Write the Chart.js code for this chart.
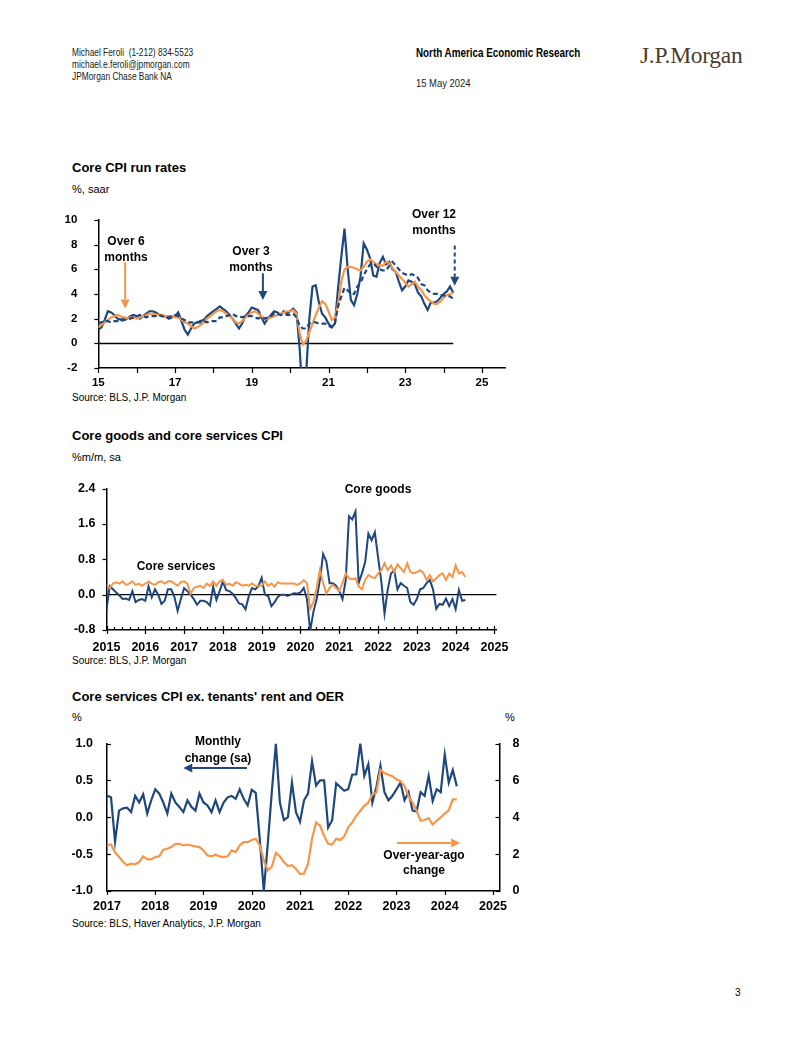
<!DOCTYPE html>
<html>
<head>
<meta charset="utf-8">
<script src="https://cdn.jsdelivr.net/npm/chart.js@4.4.1/dist/chart.umd.min.js"></script>
<style>
body { margin: 0; width: 802px; height: 1037px; background: #fff; position: relative; overflow: hidden;
       font-family: 'Liberation Sans', Arial, sans-serif; color: #000; }
.t { position: absolute; white-space: nowrap; }
.narrow { transform: scaleX(0.82); transform-origin: 0 0; }
.title { font-size: 13px; font-weight: bold; line-height: 16px; }
.sub { font-size: 11px; line-height: 14px; }
.src { font-size: 10px; line-height: 12px; }
.note { font-size: 12px; font-weight: bold; text-align: center; transform: translateX(-50%); }
canvas { position: absolute; }
</style>
</head>
<body>

<div class="t narrow" style="left:72px;top:47px;font-size:10.2px;line-height:12px;color:#222">Michael Feroli&nbsp; (1-212) 834-5523</div>
<div class="t narrow" style="left:72px;top:59px;font-size:10.2px;line-height:12px;color:#222">michael.e.feroli@jpmorgan.com</div>
<div class="t narrow" style="left:72px;top:71px;font-size:10.2px;line-height:12px;color:#222">JPMorgan Chase Bank NA</div>
<div class="t narrow" style="left:416px;top:46px;font-size:12px;font-weight:bold;line-height:14px">North America Economic Research</div>
<div class="t narrow" style="left:416px;top:77px;font-size:11.5px;line-height:13px;color:#222">15 May 2024</div>
<div class="t" style="left:640px;top:41px;font-family:'Liberation Serif',serif;font-size:23.5px;line-height:28px;color:#4a3a2e;letter-spacing:-0.3px">J.P.Morgan</div>

<!-- chart 1 -->
<div class="t title" style="left:72px;top:160px">Core CPI run rates</div>
<div class="t sub" style="left:72px;top:182px">%, saar</div>
<div class="t src" style="left:72px;top:392px">Source: BLS, J.P. Morgan</div>
<canvas id="c1" width="460" height="200" style="left:60px;top:200px"></canvas>
<div class="t note" style="left:126px;top:233px;line-height:16px">Over 6<br>months</div>
<div class="t note" style="left:251px;top:243px;line-height:16px">Over 3<br>months</div>
<div class="t note" style="left:434px;top:206px;line-height:16px">Over 12<br>months</div>

<!-- chart 2 -->
<div class="t title" style="left:72px;top:428px">Core goods and core services CPI</div>
<div class="t sub" style="left:72px;top:450px">%m/m, sa</div>
<div class="t src" style="left:72px;top:655px">Source: BLS, J.P. Morgan</div>
<canvas id="c2" width="460" height="185" style="left:60px;top:470px"></canvas>
<div class="t note" style="left:378px;top:481px;line-height:16px">Core goods</div>
<div class="t note" style="left:176px;top:558px;line-height:16px">Core services</div>

<!-- chart 3 -->
<div class="t title" style="left:72px;top:689px">Core services CPI ex. tenants' rent and OER</div>
<div class="t sub" style="left:72px;top:710px">%</div>
<div class="t sub" style="left:505px;top:710px">%</div>
<div class="t src" style="left:72px;top:918px">Source: BLS, Haver Analytics, J.P. Morgan</div>
<canvas id="c3" width="470" height="190" style="left:60px;top:730px"></canvas>
<div class="t note" style="left:218px;top:733px;line-height:17px">Monthly<br>change (sa)</div>
<div class="t note" style="left:424px;top:848px;line-height:15px">Over-year-ago<br>change</div>

<div class="t src" style="left:735px;top:987px">3</div>

<script>
// ---- chart 1: core CPI run rates, %, saar, monthly Jan 2015 - Apr 2024
const start1 = 2015;
const run3m = [
  1.1, 1.3, 1.9, 2.6, 2.5, 2.3, 2.0, 1.9, 2.1, 2.0, 2.2, 2.3,
  2.2, 2.0, 2.2, 2.4, 2.6, 2.6, 2.5, 2.3, 2.2, 2.2, 2.0, 2.1,
  2.2, 2.5, 1.8, 1.1, 0.7, 1.2, 1.6, 1.7, 1.8, 1.9, 2.2, 2.4,
  2.6, 2.8, 3.0, 2.8, 2.6, 2.3, 2.0, 1.6, 1.2, 1.6, 2.2, 2.5,
  2.9, 2.8, 2.7, 2.1, 1.6, 2.0, 2.3, 2.6, 2.5, 2.3, 2.6, 2.4,
  2.6, 2.8, 2.5, -0.5, -5.0, -2.5, 2.0, 4.6, 4.7, 3.3, 2.4, 2.1,
  1.6, 1.3, 1.6, 4.5, 7.0, 9.3, 6.0, 3.5, 3.1, 4.0, 5.4, 8.1,
  7.6, 6.9, 5.5, 5.4, 6.5, 7.0, 6.4, 6.6, 6.0, 5.8, 5.0, 4.3,
  4.6, 5.1, 5.0, 4.8, 4.1, 3.8, 3.2, 2.7, 3.3, 3.3, 3.4, 3.7,
  4.0, 4.2, 4.6, 4.1
];
const run6m = [
  1.3, 1.5, 1.7, 1.9, 2.1, 2.2, 2.3, 2.2, 2.1, 2.0, 2.1, 2.1,
  2.0, 2.1, 2.2, 2.3, 2.4, 2.4, 2.3, 2.3, 2.3, 2.2, 2.2, 2.2,
  2.1, 2.1, 1.9, 1.7, 1.6, 1.4, 1.2, 1.3, 1.5, 1.7, 2.0, 2.2,
  2.4, 2.6, 2.7, 2.6, 2.4, 2.2, 2.0, 1.7, 1.6, 1.8, 2.1, 2.3,
  2.5, 2.6, 2.4, 2.2, 2.0, 2.0, 2.1, 2.2, 2.3, 2.4, 2.5, 2.6,
  2.6, 2.7, 2.4, 0.8, -0.1, 0.2, 0.9, 1.6, 2.3, 2.9, 3.4, 3.2,
  2.6, 1.9, 2.1, 3.2, 5.0, 6.0, 6.2, 6.2, 6.1, 6.0, 5.9, 6.2,
  6.6, 6.8, 6.6, 6.4, 6.3, 6.3, 6.6, 6.5, 6.1, 5.8, 5.5, 5.2,
  4.9, 4.6, 4.8, 5.0, 4.6, 4.3, 3.9, 3.6, 3.4, 3.2, 3.2, 3.4,
  3.7, 3.9, 4.0, 4.1
];
const run12m = [
  1.6, 1.7, 1.8, 1.8, 1.7, 1.8, 1.8, 1.8, 1.9, 1.9, 2.0, 2.1,
  2.2, 2.3, 2.2, 2.1, 2.2, 2.2, 2.2, 2.3, 2.2, 2.1, 2.1, 2.2,
  2.3, 2.2, 2.0, 1.9, 1.7, 1.7, 1.7, 1.7, 1.7, 1.8, 1.7, 1.8,
  1.8, 1.8, 2.1, 2.1, 2.2, 2.3, 2.4, 2.2, 2.2, 2.1, 2.2, 2.2,
  2.2, 2.1, 2.0, 2.1, 2.0, 2.1, 2.2, 2.4, 2.4, 2.3, 2.3, 2.3,
  2.3, 2.4, 2.1, 1.4, 1.2, 1.2, 1.6, 1.7, 1.7, 1.6, 1.6, 1.6,
  1.4, 1.3, 1.6, 3.0, 3.8, 4.5, 4.3, 4.0, 4.0, 4.6, 4.9, 5.5,
  6.0, 6.4, 6.5, 6.2, 6.0, 5.9, 5.9, 6.3, 6.6, 6.3, 6.0, 5.7,
  5.6, 5.5, 5.6, 5.5, 5.3, 4.8, 4.7, 4.3, 4.1, 4.0, 4.0, 3.9,
  3.9, 3.8, 3.8, 3.6
];
const xTicks1 = [2015, 2016, 2017, 2018, 2019, 2020, 2021, 2022, 2023, 2024, 2025];
const yTicks1 = [-2, 0, 2, 4, 6, 8, 10];

// ---- chart 2: core goods and core services CPI, %m/m sa, Jan 2015 - Apr 2024
const start2 = 2015;
const coreGoods = [
  -0.34, 0.19, 0.12, 0.05, -0.02, -0.1, -0.09, -0.12, 0.08, -0.17, -0.12, -0.1,
  -0.14, 0.19, -0.06, 0.12, 0.0, -0.21, -0.14, 0.12, 0.12, -0.05, -0.37, -0.1,
  0.15, 0.08, 0.0, -0.1, -0.23, -0.14, -0.14, -0.17, -0.25, 0.18, -0.12, 0.08,
  0.3, 0.1, 0.08, 0.02, -0.08, -0.2, -0.22, -0.33, -0.04, 0.15, 0.12, 0.19,
  0.38, 0.0, -0.03, -0.26, -0.17, -0.05, 0.0, 0.0, -0.03, 0.0, 0.03, 0.02,
  0.05, 0.15, -0.1, -0.82, -0.39, -0.1, 0.33, 0.92, 0.75, 0.26, 0.26, 0.2,
  0.08, -0.1, 0.33, 1.77, 1.7, 1.88, 0.26, 0.48, 0.73, 1.38, 1.23, 1.41,
  0.84, 0.3, -0.43, 0.12, 0.48, 0.55, 0.12, 0.26, 0.2, 0.15, -0.17, -0.23,
  -0.1, 0.12, 0.15, 0.26, 0.33, 0.12, -0.32, -0.21, -0.23, -0.09, -0.26, -0.1,
  -0.33, 0.1, -0.14, -0.12
];
const coreServices = [
  0.22, 0.15, 0.25, 0.28, 0.25, 0.3, 0.22, 0.25, 0.3, 0.22, 0.25, 0.2,
  0.25, 0.3, 0.25, 0.22, 0.28, 0.3, 0.25, 0.3, 0.3, 0.25, 0.2, 0.28,
  0.3, 0.25, 0.02, 0.15, 0.18, 0.2, 0.15, 0.25, 0.2, 0.3, 0.2, 0.3,
  0.33, 0.22, 0.25, 0.2, 0.28, 0.25, 0.2, 0.22, 0.2, 0.25, 0.2, 0.2,
  0.2, 0.3, 0.2, 0.25, 0.18, 0.28, 0.25, 0.25, 0.25, 0.25, 0.25, 0.22,
  0.26, 0.33, 0.26, -0.32, -0.17, 0.15, 0.55, 0.26, 0.03, 0.15, 0.22, 0.15,
  0.08, 0.26, 0.48, 0.37, 0.35, 0.37, 0.19, 0.12, 0.33, 0.44, 0.4, 0.37,
  0.48, 0.55, 0.71, 0.55, 0.66, 0.51, 0.69, 0.6, 0.51, 0.71, 0.51, 0.48,
  0.51, 0.55, 0.49, 0.33, 0.44, 0.3, 0.37, 0.44, 0.48, 0.33, 0.48, 0.4,
  0.66, 0.48, 0.51, 0.4
];
const xTicks2 = [2015, 2016, 2017, 2018, 2019, 2020, 2021, 2022, 2023, 2024, 2025];
const yTicks2 = [-0.8, 0, 0.8, 1.6, 2.4];

// ---- chart 3: core services ex. rent and OER, Jan 2017 - Apr 2024
const start3 = 2017;
const supercoreMoM = [
  0.29, 0.27, -0.33, 0.09, 0.12, 0.13, 0.07, 0.29, 0.2, 0.31, 0.05, 0.23,
  0.38, 0.32, 0.2, 0.05, 0.32, 0.2, 0.14, 0.07, 0.23, 0.14, 0.09, 0.32,
  0.2, 0.16, 0.07, 0.23, 0.07, 0.2, 0.27, 0.29, 0.25, 0.38, 0.25, 0.16,
  0.37, 0.33, -0.3, -1.0, -0.35, 0.35, 1.0, 0.2, -0.04, 0.0, 0.47, 0.07,
  -0.06, 0.23, 0.32, 0.76, 0.43, 0.5, 0.5, -0.14, -0.04, 0.46, 0.41, 0.36,
  0.38, 0.58, 0.58, 1.0, 0.56, 0.72, 0.2, 0.41, 0.7, 0.34, 0.23, 0.29,
  0.38, 0.47, 0.23, 0.34, 0.09, 0.08, 0.34, 0.29, 0.56, 0.22, 0.38, 0.34,
  0.85, 0.47, 0.64, 0.42
];
const supercoreYoY = [
  2.47, 2.52, 2.1, 1.84, 1.57, 1.4, 1.48, 1.45, 1.57, 1.88, 1.72, 1.72,
  1.84, 1.88, 2.24, 2.29, 2.38, 2.56, 2.56, 2.47, 2.52, 2.47, 2.42, 2.38,
  2.2, 1.93, 1.88, 1.97, 1.88, 1.84, 1.88, 2.2, 2.11, 2.47, 2.65, 2.65,
  2.77, 2.83, 2.47, 1.66, 1.13, 1.31, 2.06, 1.88, 1.57, 1.35, 1.4, 1.2,
  0.92, 0.95, 1.48, 2.83, 3.72, 3.54, 3.0, 2.56, 2.52, 2.83, 2.77, 2.95,
  3.45, 3.72, 4.08, 4.35, 4.62, 4.79, 5.24, 5.33, 6.58, 6.4, 6.31, 6.23,
  6.05, 5.96, 5.69, 5.15, 4.79, 4.35, 3.81, 3.85, 3.95, 3.6, 3.81, 3.99,
  4.2, 4.38, 4.97, 4.97
];
const xTicks3 = [2017, 2018, 2019, 2020, 2021, 2022, 2023, 2024, 2025];
const yTicks3 = [-1, -0.5, 0, 0.5, 1];
const yTicks3r = [0, 2, 4, 6, 8];

const navy = '#1f477d';
const orange = '#f5964a';

Chart.defaults.font.family = "'Liberation Sans', Arial, sans-serif";
Chart.defaults.color = '#000';

function monthly(start, values) {
  return values.map((v, i) => ({ x: start + i / 12, y: v }));
}

function setTicks(list) {
  return scale => { scale.ticks = list.map(v => ({ value: v })); };
}

// short tick marks, drawn from scale pixels
const tickMarks = {
  id: 'tickMarks',
  afterDraw(chart, args, opts) {
    const ctx = chart.ctx;
    const area = chart.chartArea;
    ctx.save();
    ctx.strokeStyle = '#000';
    ctx.lineWidth = 1.2;
    (opts.marks || []).forEach(m => {
      const s = chart.scales[m.axis];
      m.values.forEach(v => {
        const p = Math.round(s.getPixelForValue(v)) + 0.5;
        ctx.beginPath();
        if (s.isHorizontal()) {
          ctx.moveTo(p, area.bottom - (m.up || 0));
          ctx.lineTo(p, area.bottom + (m.down || 0));
        } else {
          const x = s.position === 'right' ? area.right : area.left;
          ctx.moveTo(x - (m.left || 0), p);
          ctx.lineTo(x + (m.right || 0), p);
        }
        ctx.stroke();
      });
    });
    ctx.restore();
  }
};

const arrows = {
  id: 'arrows',
  afterDatasetsDraw(chart, args, opts) {
    const ctx = chart.ctx;
    (opts.items || []).forEach(a => {
      const xs = chart.scales.x, ys = chart.scales[a.axis || 'y'];
      const x0 = xs.getPixelForValue(a.from[0]), y0 = ys.getPixelForValue(a.from[1]);
      const x1 = xs.getPixelForValue(a.to[0]), y1 = ys.getPixelForValue(a.to[1]);
      const ang = Math.atan2(y1 - y0, x1 - x0);
      const head = 9, hw = 4.5;
      const bx = x1 - head * Math.cos(ang), by = y1 - head * Math.sin(ang);
      ctx.save();
      ctx.strokeStyle = a.color;
      ctx.fillStyle = a.color;
      ctx.lineWidth = 2;
      ctx.setLineDash(a.dash || []);
      ctx.beginPath();
      ctx.moveTo(x0, y0);
      ctx.lineTo(bx, by);
      ctx.stroke();
      ctx.setLineDash([]);
      ctx.beginPath();
      ctx.moveTo(x1, y1);
      ctx.lineTo(bx + hw * Math.sin(ang), by - hw * Math.cos(ang));
      ctx.lineTo(bx - hw * Math.sin(ang), by + hw * Math.cos(ang));
      ctx.closePath();
      ctx.fill();
      ctx.restore();
    });
  }
};

// zero line in chart 1 stops at the last month
const refLine = {
  id: 'refLine',
  beforeDatasetsDraw(chart, args, opts) {
    if (opts.y === undefined) return;
    const ctx = chart.ctx;
    const y = Math.round(chart.scales.y.getPixelForValue(opts.y)) + 0.5;
    ctx.save();
    ctx.strokeStyle = '#000';
    ctx.lineWidth = 1.5;
    ctx.beginPath();
    ctx.moveTo(chart.chartArea.left, y);
    ctx.lineTo(chart.scales.x.getPixelForValue(opts.xTo), y);
    ctx.stroke();
    ctx.restore();
  }
};

Chart.register(tickMarks, arrows, refLine);

function lineSet(data, color, dash, width) {
  return { data: data, borderColor: color, borderWidth: width || 2.2, borderDash: dash || [],
           pointRadius: 0, tension: 0, fill: false };
}

const axisBorder = { display: true, color: '#000', width: 1.5 };
const baseOpts = { responsive: false, animation: false, events: [] };

// chart 1
new Chart(document.getElementById('c1'), {
  type: 'line',
  data: { datasets: [
    lineSet(monthly(start1, run12m), navy, [5, 3]),
    lineSet(monthly(start1, run6m), orange),
    lineSet(monthly(start1, run3m), navy)
  ] },
  options: Object.assign({}, baseOpts, {
    layout: { padding: { top: 14, right: 15, left: 0, bottom: 0 }, autoPadding: false },
    plugins: {
      legend: { display: false }, tooltip: { enabled: false },
      refLine: { y: 0, xTo: start1 + (run3m.length - 1) / 12 },
      tickMarks: { marks: [
        { axis: 'x', values: xTicks1, down: 5 },
        { axis: 'y', values: yTicks1, left: 4 }
      ] },
      arrows: { items: [
        { from: [2015.70, 6.57], to: [2015.70, 2.83], color: orange },
        { from: [2019.29, 5.67], to: [2019.29, 3.5], color: navy },
        { from: [2024.29, 7.93], to: [2024.29, 4.66], color: navy, dash: [4, 3] }
      ] }
    },
    scales: {
      x: { type: 'linear', min: 2015, max: 2025.6, afterBuildTicks: setTicks(xTicks1),
           afterFit: s => { s.height = 32; },
           grid: { display: false }, border: axisBorder,
           ticks: { autoSkip: false, maxRotation: 0, padding: 0, color: '#000',
                    font: { size: 11.5, weight: 'bold' },
                    callback: v => (v % 2 === 1 ? String(v).slice(2) : '') } },
      y: { min: -2, max: 10, afterBuildTicks: setTicks(yTicks1),
           afterFit: s => { s.width = 38.3; },
           grid: { display: false }, border: axisBorder,
           ticks: { padding: 13, color: '#000', font: { size: 11.5, weight: 'bold' } } }
    }
  })
});

// chart 2
const minor2 = [];
xTicks2.slice(0, -1).forEach(y => { for (let k = 1; k < 5; k++) minor2.push(y + k / 5); });

new Chart(document.getElementById('c2'), {
  type: 'line',
  data: { datasets: [
    lineSet(monthly(start2, coreServices), orange, null, 2),
    lineSet(monthly(start2, coreGoods), navy, null, 2)
  ] },
  options: Object.assign({}, baseOpts, {
    layout: { padding: { top: 12, right: 23.6, left: 0, bottom: 0 }, autoPadding: false },
    plugins: {
      legend: { display: false }, tooltip: { enabled: false },
      tickMarks: { marks: [
        { axis: 'x', values: xTicks2, up: 4, down: 4 },
        { axis: 'x', values: minor2, up: 3 },
        { axis: 'y', values: yTicks2, left: 4 }
      ] }
    },
    scales: {
      x: { type: 'linear', min: 2015, max: 2025.05, afterBuildTicks: setTicks(xTicks2),
           afterFit: s => { s.height = 25; },
           grid: { display: false }, border: axisBorder,
           ticks: { autoSkip: false, maxRotation: 0, padding: 2.5, color: '#000',
                    font: { size: 12.5, weight: 'bold' }, callback: v => String(v) } },
      y: { min: -0.8, max: 2.4, afterBuildTicks: setTicks(yTicks2),
           afterFit: s => { s.width = 46.5; },
           grid: { display: true, drawTicks: false, lineWidth: 1.3,
                   color: c => (c.tick && Math.abs(c.tick.value) < 1e-9 ? '#000' : 'rgba(0,0,0,0)') },
           border: axisBorder,
           ticks: { padding: 11, color: '#000', font: { size: 12.5, weight: 'bold' },
                    callback: v => v.toFixed(1) } }
    }
  })
});

// chart 3
new Chart(document.getElementById('c3'), {
  type: 'line',
  data: { datasets: [
    Object.assign(lineSet(monthly(start3, supercoreYoY), orange), { yAxisID: 'y2' }),
    Object.assign(lineSet(monthly(start3, supercoreMoM), navy), { yAxisID: 'y' })
  ] },
  options: Object.assign({}, baseOpts, {
    layout: { padding: { top: 12, right: 0, left: 0, bottom: 0 }, autoPadding: false },
    plugins: {
      legend: { display: false }, tooltip: { enabled: false },
      tickMarks: { marks: [
        { axis: 'x', values: xTicks3, down: 4 },
        { axis: 'y', values: yTicks3, right: 4 },
        { axis: 'y2', values: yTicks3r, left: 4 }
      ] },
      arrows: { items: [
        { from: [2019.90, 0.667], to: [2018.58, 0.667], color: navy },
        { from: [2023.01, -0.35], to: [2024.32, -0.35], color: orange }
      ] }
    },
    scales: {
      x: { type: 'linear', min: 2017, max: 2025.135, afterBuildTicks: setTicks(xTicks3),
           afterFit: s => { s.height = 29; },
           grid: { display: false }, border: axisBorder,
           ticks: { autoSkip: false, maxRotation: 0, padding: 0, color: '#000',
                    font: { size: 12.5, weight: 'bold' }, callback: v => String(v) } },
      y: { position: 'left', min: -1, max: 1, afterBuildTicks: setTicks(yTicks3),
           afterFit: s => { s.width = 47; },
           grid: { display: false }, border: axisBorder,
           ticks: { padding: 6, color: '#000', font: { size: 12.5, weight: 'bold' },
                    callback: v => v.toFixed(1) } },
      y2: { position: 'right', min: 0, max: 8, afterBuildTicks: setTicks(yTicks3r),
            afterFit: s => { s.width = 30.5; },
            grid: { display: false }, border: axisBorder,
            ticks: { padding: 5, color: '#000', font: { size: 12.5, weight: 'bold' } } }
    }
  })
});
</script>
</body>
</html>
